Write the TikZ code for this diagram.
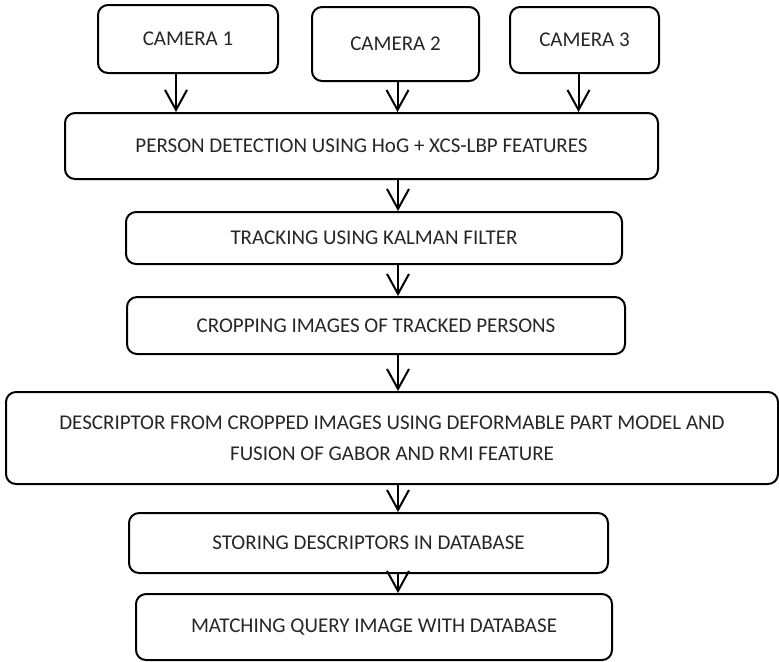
\documentclass[tikz,border=0pt]{standalone}
\usepackage{fontspec}
\setmainfont{Carlito}
\usetikzlibrary{arrows.meta}

\tikzset{
  stage/.style={draw,rounded corners=5pt,line width=1pt,align=center,inner sep=0pt,
    text=black!85,font=\fontsize{10.5}{15.5}\selectfont},
  flow/.style={line width=1pt,-{Straight Barb[length=10pt,width=11pt,line width=1pt]}}
}

\begin{document}
\begin{tikzpicture}[x=0.5pt,y=-0.5pt]
  \useasboundingbox (0,0) rectangle (779,661);
  % cameras
  \node[stage,minimum width=90pt,minimum height=34pt] (cam1) at (188,39) {CAMERA 1};
  \node[stage,minimum width=83.5pt,minimum height=37pt] (cam2) at (395.5,44) {CAMERA 2};
  \node[stage,minimum width=74.5pt,minimum height=33pt] (cam3) at (584.5,40) {CAMERA 3};
  % processing chain
  \node[stage,minimum width=296.5pt,minimum height=33pt] (detect) at (361.5,146) {PERSON DETECTION USING HoG + XCS-LBP FEATURES};
  \node[stage,minimum width=248pt,minimum height=26pt] (track) at (374,238) {TRACKING USING KALMAN FILTER};
  \node[stage,minimum width=249pt,minimum height=28.5pt] (crop) at (376,325.5) {CROPPING IMAGES OF TRACKED PERSONS};
  \node[stage,minimum width=386pt,minimum height=46pt] (descr) at (392,438) {DESCRIPTOR FROM CROPPED IMAGES USING DEFORMABLE PART MODEL AND\\FUSION OF GABOR AND RMI FEATURE};
  \node[stage,minimum width=239.5pt,minimum height=30pt] (store) at (368.5,543) {STORING DESCRIPTORS IN DATABASE};
  \node[stage,minimum width=238pt,minimum height=33pt] (match) at (374,627) {MATCHING QUERY IMAGE WITH DATABASE};

  \coordinate (spine) at (398,0);
  \draw[flow] ([xshift=-6pt]cam1.south) -- ([xshift=-6pt]cam1.south |- detect.north);
  \draw[flow] ([xshift=1pt]cam2.south) -- ([xshift=1pt]cam2.south |- detect.north);
  \draw[flow] ([xshift=-3pt]cam3.south) -- ([xshift=-3pt]cam3.south |- detect.north);
  \draw[flow] (detect.south -| spine) -- (track.north -| spine);
  \draw[flow] (track.south -| spine) -- (crop.north -| spine);
  \draw[flow] (crop.south -| spine) -- (descr.north -| spine);
  \draw[flow] (descr.south -| spine) -- (store.north -| spine);
  \draw[flow] (store.south -| spine) -- (match.north -| spine);
\end{tikzpicture}
\end{document}
